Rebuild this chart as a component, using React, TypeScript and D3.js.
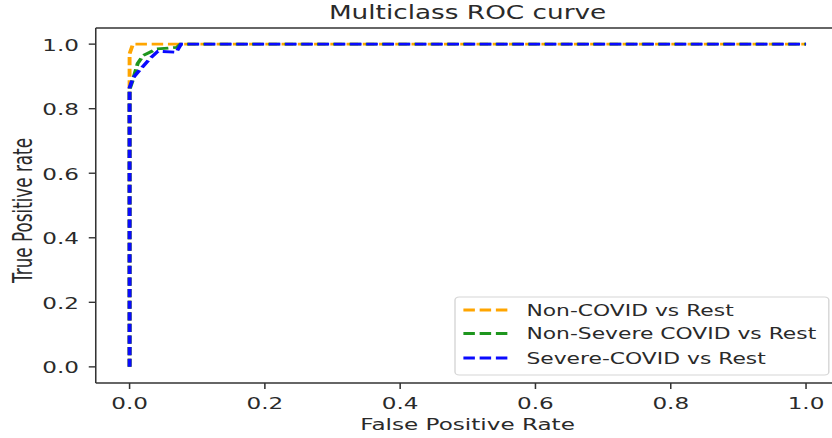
import * as d3 from "d3"

// ROC points
const fprNonCovid = [0, 0, 0, 0.005, 0.075, 1]
const tprNonCovid = [0, 0.9, 0.97, 1.0, 1.0, 1.0]

const fprNonSevere = [0, 0, 0.005, 0.012, 0.02, 0.04, 0.07, 0.075, 1]
const tprNonSevere = [0, 0.86, 0.89, 0.94, 0.965, 0.985, 0.99, 1.0, 1.0]

const fprSevere = [0, 0, 0.005, 0.015, 0.03, 0.042, 0.069, 0.076, 1]
const tprSevere = [0, 0.865, 0.895, 0.92, 0.955, 0.978, 0.975, 1.0, 1.0]

const seriesLabels = ["Non-COVID vs Rest", "Non-Severe COVID vs Rest", "Severe-COVID vs Rest"]
const seriesColors = ["#ffa500", "#1e961e", "#0a0aff"]
const tickValues = [0, 0.2, 0.4, 0.6, 0.8, 1.0]

// the reference is stretched horizontally, so draw in a narrower viewBox
const W = 832
const H = 438
const SX = 1.4
const VW = W / SX
const FONT = "DejaVu Sans"

export default function App() {
  const margin = { left: 68.4, right: 599.9, top: 28, bottom: 383 }

  const x = d3.scaleLinear().domain([-0.05, 1.05]).range([margin.left, margin.right])
  const y = d3.scaleLinear().domain([-0.05, 1.05]).range([margin.bottom, margin.top])

  const series = [
    { fpr: fprNonCovid, tpr: tprNonCovid },
    { fpr: fprNonSevere, tpr: tprNonSevere },
    { fpr: fprSevere, tpr: tprSevere },
  ]

  const line = d3
    .line<[number, number]>()
    .x((d) => x(d[0]))
    .y((d) => y(d[1]))

  const dash = "8.2 3.4"
  const textColor = "#2a2a2a"

  // legend
  const lg = { x0: 325, y0: 297, x1: 592, y1: 375 }
  const rowY = [310, 333.5, 358]

  return (
    <svg
      width={W}
      height={H}
      viewBox={`0 0 ${VW} ${H}`}
      preserveAspectRatio="none"
      style={{ position: "absolute", left: 0, top: 0, background: "white" }}
      fontFamily={FONT}
    >
      <rect x={0} y={0} width={VW} height={H} fill="white" />

      {/* curves */}
      {series.map((s, i) => (
        <path
          key={i}
          d={line(s.fpr.map((f, j) => [f, s.tpr[j]] as [number, number])) || ""}
          fill="none"
          stroke={seriesColors[i]}
          strokeWidth={2.8}
          strokeDasharray={dash}
        />
      ))}

      {/* spines */}
      <line x1={margin.left} x2={margin.left} y1={margin.top} y2={margin.bottom} stroke="#333" strokeWidth={1.1} />
      <line x1={margin.left} x2={margin.right} y1={margin.bottom} y2={margin.bottom} stroke="#333" strokeWidth={1.4} />
      <line x1={margin.left} x2={margin.right} y1={margin.top} y2={margin.top} stroke="#333" strokeWidth={1.4} />

      {/* x ticks */}
      {tickValues.map((t) => (
        <g key={"x" + t} transform={`translate(${x(t)},${margin.bottom})`}>
          <line y1={0} y2={6} stroke="#333" strokeWidth={1.1} />
          <text y={26} textAnchor="middle" fontSize={16.5} fill={textColor}>
            {t.toFixed(1)}
          </text>
        </g>
      ))}

      {/* y ticks */}
      {tickValues.map((t) => (
        <g key={"y" + t} transform={`translate(${margin.left},${y(t)})`}>
          <line x1={0} x2={-5} stroke="#333" strokeWidth={1.4} />
          <text x={-12} y={6.5} textAnchor="end" fontSize={16.5} fill={textColor}>
            {t.toFixed(1)}
          </text>
        </g>
      ))}

      {/* labels */}
      <text x={334} y={19} textAnchor="middle" fontSize={18.8} fill={textColor}>
        Multiclass ROC curve
      </text>
      <text x={334} y={430} textAnchor="middle" fontSize={16.5} fill={textColor}>
        False Positive Rate
      </text>
      <text
        transform={`translate(23,210.5) rotate(-90)`}
        textAnchor="middle"
        fontSize={18.5}
        fill={textColor}
        textLength={145}
        lengthAdjust="spacingAndGlyphs"
      >
        True Positive rate
      </text>

      {/* legend */}
      <rect
        x={lg.x0}
        y={lg.y0}
        width={lg.x1 - lg.x0}
        height={lg.y1 - lg.y0}
        rx={3}
        fill="white"
        fillOpacity={0.8}
        stroke="#d6d6d6"
        strokeWidth={1}
      />
      {seriesLabels.map((label, i) => (
        <g key={label}>
          <line
            x1={331}
            x2={363}
            y1={rowY[i]}
            y2={rowY[i]}
            stroke={seriesColors[i]}
            strokeWidth={2.8}
            strokeDasharray={dash}
          />
          <text x={376} y={rowY[i] + 6} fontSize={15.6} fill={textColor}>
            {label}
          </text>
        </g>
      ))}
    </svg>
  )
}
